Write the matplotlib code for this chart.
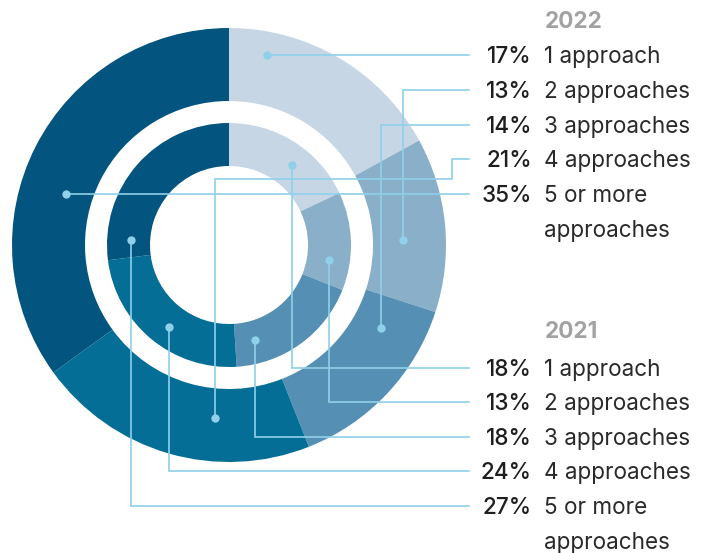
import numpy as np
import matplotlib.pyplot as plt

# data
categories = ['1 approach', '2 approaches', '3 approaches', '4 approaches', '5 or more\napproaches']
share_2022 = [17, 13, 14, 21, 35]
share_2021 = [18, 13, 18, 24, 27]
colors = ['#c6d6e5', '#8aafc8', '#5590b4', '#046e96', '#03557f']
line_color = '#8fd0ea'

# layout (pixels, y down)
cx, cy = 229, 245
r_outer, w_outer = 217, 73
r_inner, w_inner = 122, 43
anchor_2022 = [11.3, 88.4, 118.6, 184.6, 287.7]   # degrees clockwise from top
anchor_2021 = [38, 98.5, 164.7, 216, 273]
rad_2022 = [194, 174, 173, 174, 171]
rad_2021 = [102, 101, 98.5, 101.6, 98]
rows_2022 = [55, 90, 125, 159, 194]
rows_2021 = [368, 402, 437, 471, 506]
jogs_2022 = [None, None, None, (179, 452), None]
line_end = 469
row_step = 35

plt.rcParams['font.family'] = ['Inter', 'DejaVu Sans']
fig = plt.figure(figsize=(7.13, 5.53), dpi=100)
ax = fig.add_axes([0, 0, 1, 1])

for vals, r, w in [(share_2022, r_outer, w_outer), (share_2021, r_inner, w_inner)]:
    ax.pie(vals, colors=colors, radius=r, center=(cx, cy), startangle=-90,
           counterclock=True, wedgeprops=dict(width=w, linewidth=0))

ax.set_xlim(0, 713)
ax.set_ylim(553, 0)
ax.set_aspect('equal')
ax.axis('off')


def leader(angle, rad, row_y, jog=None):
    a = np.radians(angle)
    x0 = cx + rad * np.sin(a)
    y0 = cy - rad * np.cos(a)
    if abs(y0 - row_y) < 4:
        y0 = row_y
        xs, ys = [x0, line_end], [row_y, row_y]
    elif jog is None:
        xs, ys = [x0, x0, line_end], [y0, row_y, row_y]
    else:
        jy, jx = jog
        xs, ys = [x0, x0, jx, jx, line_end], [y0, jy, jy, row_y, row_y]
    ax.plot(xs, ys, color=line_color, lw=1.2, solid_joinstyle='miter', zorder=3)
    ax.plot(x0, y0, 'o', color=line_color, ms=6, mec='none', zorder=4)


for i in range(5):
    leader(anchor_2022[i], rad_2022[i], rows_2022[i], jogs_2022[i])
    leader(anchor_2021[i], rad_2021[i], rows_2021[i])

fs = 16.2
ax.text(545, 22, '2022', fontsize=fs, fontweight='bold', color='#a2a2a2', va='center', ha='left')
ax.text(545, 332, '2021', fontsize=fs, fontweight='bold', color='#a2a2a2', va='center', ha='left')
for rows, vals in [(rows_2022, share_2022), (rows_2021, share_2021)]:
    for y, v, lab in zip(rows, vals, categories):
        ax.text(532, y + 2, f'{v}%', fontsize=fs, fontweight='medium', color='#1e1e1e',
                ha='right', va='center')
        for k, part in enumerate(lab.split('\n')):
            ax.text(544, y + 2 + k * row_step, part, fontsize=fs, color='#2a2a2a',
                    ha='left', va='center')

fig.savefig('out.png', dpi=100)
